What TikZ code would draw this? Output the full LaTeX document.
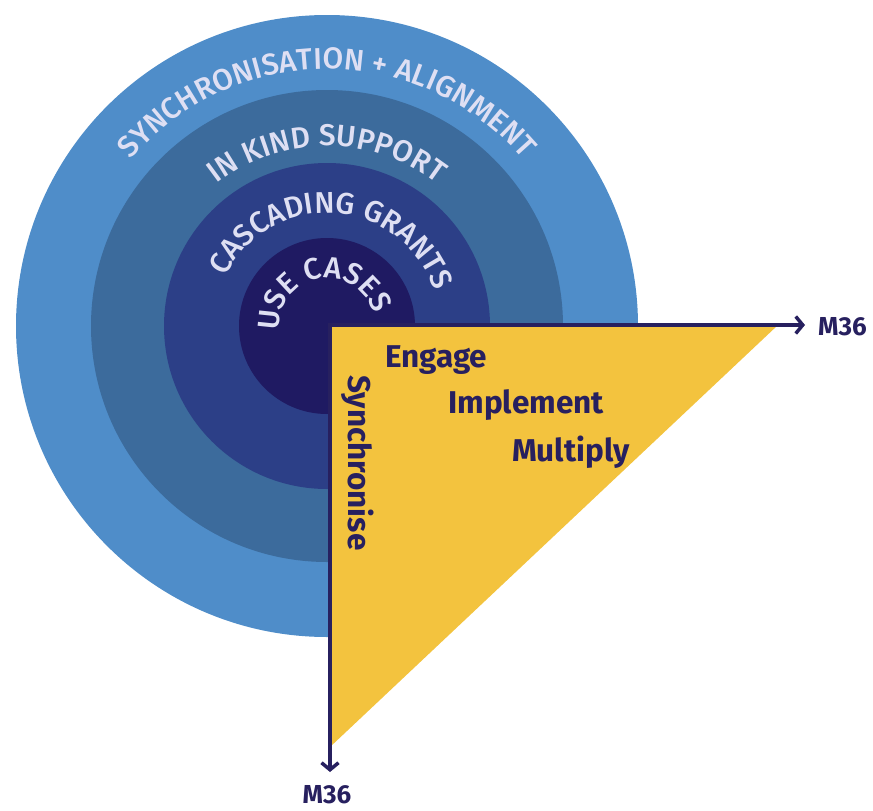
\documentclass[tikz,border=0pt]{standalone}
\usepackage{fontspec}
\setmainfont{Fira Sans}
\newfontfamily\ringfam{Fira Sans Medium}
\usetikzlibrary{decorations.text,arrows.meta}
\definecolor{ringa}{HTML}{4F8DC9}
\definecolor{ringb}{HTML}{3C6B9C}
\definecolor{ringc}{HTML}{2C3F87}
\definecolor{ringd}{HTML}{1F1A62}
\definecolor{gold}{HTML}{F3C33E}
\definecolor{navy}{HTML}{27205F}
\definecolor{ringtxt}{HTML}{DEDFF3}
\newcommand\ringfont{\color{ringtxt}\ringfam\fontsize{30}{30}\selectfont}

\begin{document}
\begin{tikzpicture}[x=1pt,y=-1pt]
    \tikzstyle{phase}=[inner sep=0pt,text=navy,font=\bfseries\fontsize{31.5}{31.5}\selectfont];
    \tikzstyle{month}=[inner sep=0pt,text=navy,font=\bfseries\fontsize{26}{26}\selectfont];
    \tikzstyle{axis}=[draw=navy,line width=3.5pt,{Straight Barb[length=7pt,width=17pt]}-{Straight Barb[length=7pt,width=17pt]}];
    \tikzstyle{arctext}=[decorate,decoration={text along path,text align=center}];
    \useasboundingbox (0,0) rectangle (873,811);

    % rings, lower right quarter left open
    \coordinate (c) at (327,326);
    \begin{scope}
      \clip (0,0) rectangle (873,325) (0,325) rectangle (330,811);
      \fill[ringa] (c) circle[radius=311];
      \fill[ringb] (c) circle[radius=236];
      \fill[ringc] (c) circle[radius=163];
      \fill[ringd] (c) circle[radius=88];
    \end{scope}

    \path[arctext,decoration={text={|\ringfont|SYNCHRONISATION + ALIGNMENT}}]
      ([shift={(190:257)}]c) arc[start angle=190,end angle=350,radius=257];
    \path[arctext,decoration={text={|\ringfont|IN KIND SUPPORT}}]
      ([shift={(190:180)}]c) arc[start angle=190,end angle=350,radius=180];
    \path[arctext,decoration={text={|\ringfont|CASCADING GRANTS}}]
      ([shift={(189:113)}]c) arc[start angle=189,end angle=359,radius=113];
    \path[arctext,decoration={text={|\ringfont|USE CASES}}]
      ([shift={(155:48)}]c) arc[start angle=155,end angle=365,radius=48];

    % triangle and axes
    \coordinate (o) at (330,325);
    \coordinate (a) at (778,325);
    \coordinate (b) at (330,747);
    \coordinate (xt) at (805,325);
    \coordinate (yt) at (330,772);
    \fill[gold] (o) -- (a) -- (b) -- cycle;
    \draw[axis] (xt) -- (o) -- (yt);

    \node (e) [phase,anchor=base west] at (385,367) {Engage};
    \node (i) [phase,anchor=base west] at (448,413) {Implement};
    \node (m) [phase,anchor=base west] at (512,461) {Multiply};
    \node (s) [phase,anchor=base west,rotate=-90] at (348,375) {Synchronise};
    \node (mx) [month,anchor=base west] at (818,335) {M36};
    \node (my) [month,anchor=base] at (327,803) {M36};
  \end{tikzpicture}
\end{document}
